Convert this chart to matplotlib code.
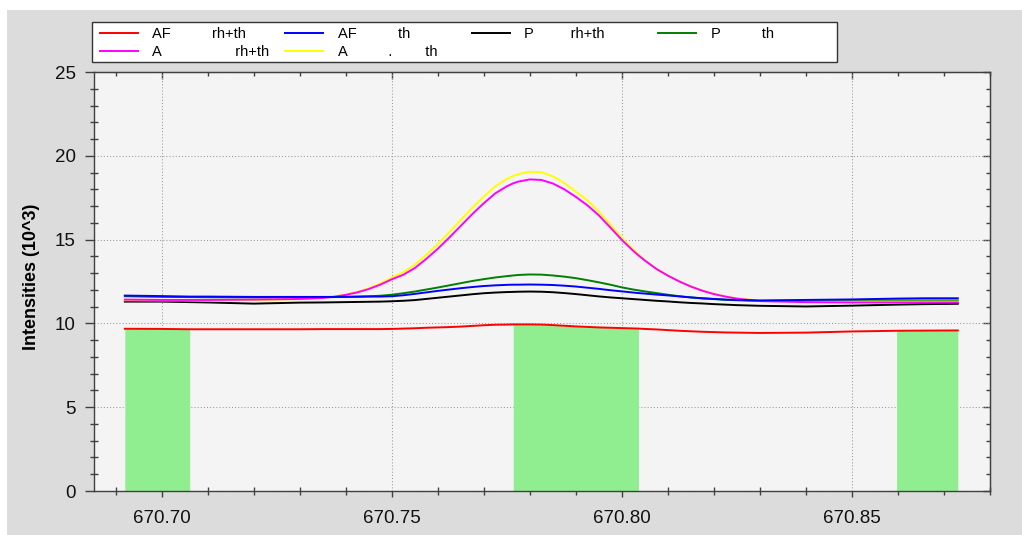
import numpy as np
import matplotlib
matplotlib.use("Agg")
import matplotlib.pyplot as plt
from matplotlib.ticker import MultipleLocator, FormatStrFormatter
from matplotlib.patches import Rectangle

plt.rcParams['font.family'] = ['Liberation Sans', 'DejaVu Sans']

# ---------------- data ----------------
wavelength = [670.692, 670.700, 670.7061, 670.710, 670.720, 670.730,
              670.735, 670.7375, 670.740, 670.7425, 670.745, 670.7475, 670.750, 670.7525,
              670.755, 670.7575, 670.760, 670.7625, 670.765, 670.7675, 670.770, 670.7725,
              670.775, 670.7764, 670.7775, 670.780, 670.7825, 670.785, 670.7875, 670.790,
              670.7925, 670.795, 670.7975, 670.800, 670.8025, 670.8036, 670.805, 670.8075,
              670.810, 670.8125, 670.815, 670.8175, 670.820, 670.8225, 670.825, 670.830,
              670.840, 670.850, 670.8597, 670.866, 670.873]

af_rh_th = [9.68, 9.67, 9.65, 9.65, 9.65, 9.65, 9.66, 9.66, 9.66, 9.66, 9.66, 9.66, 9.67, 9.69,
            9.71, 9.74, 9.76, 9.78, 9.81, 9.85, 9.89, 9.92, 9.93, 9.94, 9.94, 9.94, 9.93, 9.90,
            9.86, 9.82, 9.79, 9.76, 9.74, 9.72, 9.70, 9.69, 9.67, 9.64, 9.60, 9.56, 9.53, 9.50,
            9.48, 9.46, 9.45, 9.43, 9.45, 9.52, 9.56, 9.57, 9.58]
af_th = [11.66, 11.63, 11.60, 11.60, 11.58, 11.58, 11.58, 11.58, 11.59, 11.59, 11.60, 11.60,
         11.62, 11.68, 11.76, 11.85, 11.94, 12.02, 12.10, 12.17, 12.23, 12.27, 12.30, 12.31,
         12.31, 12.32, 12.31, 12.29, 12.25, 12.20, 12.13, 12.06, 11.98, 11.91, 11.84, 11.81,
         11.78, 11.72, 11.67, 11.61, 11.55, 11.50, 11.46, 11.42, 11.40, 11.37, 11.40, 11.43,
         11.48, 11.50, 11.50]
p_rh_th = [11.30, 11.30, 11.27, 11.25, 11.18, 11.24, 11.25, 11.26, 11.27, 11.28, 11.29, 11.30,
           11.32, 11.35, 11.39, 11.46, 11.53, 11.60, 11.67, 11.74, 11.80, 11.84, 11.87, 11.88,
           11.89, 11.90, 11.89, 11.86, 11.81, 11.75, 11.68, 11.61, 11.55, 11.50, 11.45, 11.43,
           11.40, 11.35, 11.31, 11.26, 11.22, 11.19, 11.15, 11.12, 11.09, 11.05, 11.01, 11.06,
           11.12, 11.15, 11.17]
p_th = [11.62, 11.58, 11.57, 11.56, 11.55, 11.55, 11.56, 11.57, 11.58, 11.60, 11.62, 11.65,
        11.71, 11.80, 11.90, 12.02, 12.14, 12.27, 12.40, 12.53, 12.64, 12.74, 12.82, 12.86,
        12.89, 12.92, 12.91, 12.86, 12.79, 12.70, 12.58, 12.45, 12.31, 12.15, 12.02, 11.97,
        11.91, 11.81, 11.71, 11.62, 11.55, 11.49, 11.45, 11.41, 11.38, 11.34, 11.35, 11.37,
        11.37, 11.37, 11.37]
a_rh_th = [11.42, 11.40, 11.40, 11.40, 11.42, 11.46, 11.52, 11.59, 11.70, 11.85, 12.05, 12.31,
           12.63, 12.90, 13.30, 13.85, 14.45, 15.12, 15.82, 16.52, 17.17, 17.76, 18.18, 18.36,
           18.46, 18.59, 18.56, 18.35, 18.00, 17.55, 17.05, 16.45, 15.72, 14.98, 14.32, 14.06,
           13.75, 13.25, 12.85, 12.50, 12.20, 11.95, 11.75, 11.60, 11.48, 11.33, 11.27, 11.25,
           11.25, 11.25, 11.25]
a_th = [11.38, 11.37, 11.37, 11.37, 11.38, 11.45, 11.52, 11.60, 11.72, 11.88, 12.10, 12.38,
        12.73, 13.05, 13.50, 14.10, 14.73, 15.44, 16.17, 16.90, 17.57, 18.18, 18.62, 18.80,
        18.91, 19.05, 19.02, 18.78, 18.38, 17.86, 17.35, 16.68, 15.90, 15.10, 14.40, 14.12,
        13.78, 13.27, 12.86, 12.51, 12.21, 11.96, 11.76, 11.61, 11.49, 11.36, 11.30, 11.30,
        11.30, 11.30, 11.30]

window_start = [670.692, 670.7764, 670.8597]
window_end = [670.7061, 670.8036, 670.873]

labels = {
    'af_rh_th': "AF          rh+th",
    'af_th': "AF          th",
    'p_rh_th': "P         rh+th",
    'p_th': "P          th",
    'a_rh_th': "A                  rh+th",
    'a_th': "A          .        th",
}

x_ticks_fmt = '%.2f'
y_label = 'Intensities (10^3)'

# ---------------- figure ----------------
W, H = 1022, 535
fig = plt.figure(figsize=(W / 100, H / 100), dpi=100, facecolor='white')
fig.add_artist(Rectangle((7 / W, 0), 1, (H - 10) / H, transform=fig.transFigure,
                         facecolor='#dcdcdc', edgecolor='none', zorder=-10))

ax = fig.add_axes([94 / W, (H - 491) / H, 896 / W, 419 / H])
ax.set_facecolor('#f4f4f4')

x = np.array(wavelength)
red = np.array(af_rh_th)
for s, e in zip(window_start, window_end):
    ax.fill_between(x, 0, red, where=(x >= s - 1e-9) & (x <= e + 1e-9),
                    color='#90ee90', lw=0, zorder=1)

lw = 1.4
h_red, = ax.plot(x, af_rh_th, color='#ff0000', lw=lw, zorder=3)
h_green, = ax.plot(x, p_th, color='#008000', lw=lw, zorder=3)
h_black, = ax.plot(x, p_rh_th, color='#000000', lw=lw, zorder=3)
h_yellow, = ax.plot(x, a_th, color='#ffff00', lw=lw, zorder=3)
h_mag, = ax.plot(x, a_rh_th, color='#ff00ff', lw=lw, zorder=3)
h_blue, = ax.plot(x, af_th, color='#0000ff', lw=lw, zorder=3)

ax.set_xlim(670.6853, 670.880)
ax.set_ylim(0, 25)

spine_c = '#404040'
for sp in ax.spines.values():
    sp.set_color(spine_c)
    sp.set_linewidth(1)

ax.xaxis.set_major_locator(MultipleLocator(0.05))
ax.xaxis.set_minor_locator(MultipleLocator(0.01))
ax.xaxis.set_major_formatter(FormatStrFormatter(x_ticks_fmt))
ax.yaxis.set_major_locator(MultipleLocator(5))
ax.yaxis.set_minor_locator(MultipleLocator(1))

ax.tick_params(axis='both', which='major', direction='out', width=1, color=spine_c,
               labelsize=13.5, labelcolor='#111111')
ax.tick_params(axis='x', which='major', length=4.5, pad=9)
ax.tick_params(axis='y', which='major', length=6.5, pad=6.5)
ax.tick_params(axis='both', which='minor', direction='inout', length=5.8, width=1, color=spine_c)

ax.grid(True, which='major', color='#9a9a9a', linestyle=(0, (1, 2)), lw=0.75)
ax.set_axisbelow(True)

sec_y = ax.secondary_yaxis('right')
sec_y.yaxis.set_major_locator(MultipleLocator(5))
sec_y.yaxis.set_minor_locator(MultipleLocator(1))
sec_y.tick_params(which='both', direction='in', labelright=False, color=spine_c, width=1)
sec_y.tick_params(which='major', length=5)
sec_y.tick_params(which='minor', length=3)
sec_y.spines['right'].set_color(spine_c)

sec_x = ax.secondary_xaxis('top')
sec_x.xaxis.set_major_locator(MultipleLocator(0.05))
sec_x.xaxis.set_minor_locator(MultipleLocator(0.01))
sec_x.tick_params(which='both', direction='in', labeltop=False, color=spine_c, width=1)
sec_x.tick_params(which='major', length=5)
sec_x.tick_params(which='minor', length=3)
sec_x.spines['top'].set_color(spine_c)

ax.set_ylabel(y_label, fontsize=13, fontweight='bold')
ax.yaxis.set_label_coords(-0.0603, 0.511)

# ---------------- legend ----------------
fig.add_artist(Rectangle((92 / W, 1 - 62 / H), (837 - 92) / W, 40 / H,
                         transform=fig.transFigure, facecolor='white',
                         edgecolor='#333333', lw=1, zorder=2))
columns = [([h_red, h_mag], [labels['af_rh_th'], labels['a_rh_th']], 99.7),
           ([h_blue, h_yellow], [labels['af_th'], labels['a_th']], 285),
           ([h_black], [labels['p_rh_th']], 472),
           ([h_green], [labels['p_th']], 658)]
for hs, ls, cx in columns:
    leg = fig.legend(hs, ls, loc='upper left', bbox_to_anchor=(cx / W, 1 - 27.5 / H),
                     bbox_transform=fig.transFigure, frameon=False, fontsize=10.5,
                     handlelength=2.6, handletextpad=1.0, borderpad=0, borderaxespad=0,
                     labelspacing=0.24)
    leg.set_zorder(5)

fig.savefig('out.png', dpi=100, facecolor=fig.get_facecolor())
